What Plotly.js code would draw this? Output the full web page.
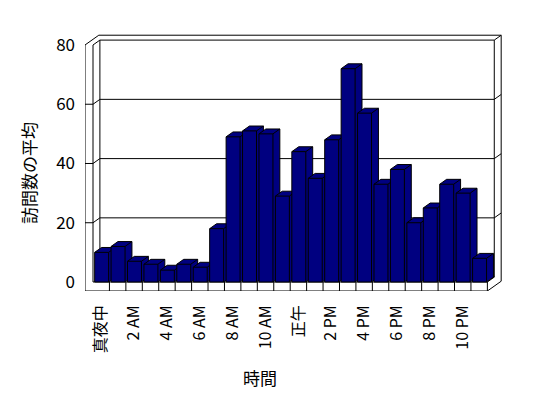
<!DOCTYPE html>
<html><head><meta charset="utf-8">
<script src="https://cdn.plot.ly/plotly-3.0.1.min.js"></script>
<style>html,body{margin:0;padding:0;background:#fff}#chart{width:548px;height:398px}</style>
</head><body><div id="chart"></div>
<script>
// ---- data ----
const hours = ["真夜中","1 AM","2 AM","3 AM","4 AM","5 AM","6 AM","7 AM","8 AM","9 AM","10 AM","11 AM",
               "正午","1 PM","2 PM","3 PM","4 PM","5 PM","6 PM","7 PM","8 PM","9 PM","10 PM","11 PM"];
const visits = [10,12,7,6,4,6,5,18,49,51,50,29,44,35,48,72,57,33,38,20,25,33,30,8];
const yTicks = [0,20,40,60,80];
const tickIdx = hours.map((_, i) => i).filter(i => i % 2 === 0);
const tickLabels = tickIdx.map(i => hours[i]);

// ---- 3D look parameters (styles) ----
const DX = 0.42, DY = 1.65, TW = 0.487, FH = 3.04;
const A = -0.5, B = hours.length - 0.5, YMAX = 80;
const BAR_L = 0.4, BAR_W = 0.85;
const FONT = '"Noto Sans CJK JP", "Noto Sans", sans-serif';

const traces = visits.map((v, i) => {
  const x0 = i - BAR_L, x1 = x0 + BAR_W;
  return {
    type: 'scatter', mode: 'lines',
    x: [x0, x0, x0 + DX, x1 + DX, x1 + DX, x1, x0, null, x0, x1, x1, null, x1, x1 + DX],
    y: [0, v, v + DY, v + DY, DY, 0, 0, null, v, v, 0, null, v, v + DY],
    fill: 'toself', fillcolor: '#000080',
    line: {color: '#000000', width: 1},
    hoverinfo: 'skip', showlegend: false
  };
});

function shp(pts) {
  return {type: 'path', xref: 'x', yref: 'y', layer: 'below',
          path: 'M' + pts.map(p => p[0] + ',' + p[1]).join('L'),
          line: {color: '#000000', width: 1}};
}
const shapes = [];
shapes.push(shp([[A-TW,-FH],[A-TW,YMAX],[A-TW+2*DX,YMAX+2*DY],[B+2*DX,YMAX+2*DY],[B+2*DX,-FH+2*DY],[B,-FH],[A-TW,-FH]]));
shapes.push(shp([[A,0],[A,YMAX],[A+DX,YMAX+DY],[B+DX,YMAX+DY],[B+DX,DY]]));
shapes.push(shp([[B+DX,YMAX+DY],[B+2*DX,YMAX+2*DY]]));
shapes.push(shp([[A+DX,DY],[A+DX,YMAX+DY]]));
shapes.push(shp([[A,0],[B,0],[B,-FH]]));
shapes.push(shp([[A+DX,DY],[B+DX,DY]]));
shapes.push(shp([[B,0],[B+DX,DY]]));
yTicks.filter(v => v > 0 && v < YMAX).forEach(v => {
  shapes.push(shp([[A-TW,v],[A,v],[A+DX,v+DY],[B+DX,v+DY],[B+2*DX,v+2*DY]]));
});
for (let k = 1; k < hours.length; k++) shapes.push(shp([[A+k,-FH],[A+k,0]]));

const layout = {
  width: 548, height: 398,
  margin: {l: 85, r: 46, t: 34, b: 107},
  paper_bgcolor: '#ffffff', plot_bgcolor: '#ffffff',
  font: {family: FONT, color: '#000000', size: 16},
  showlegend: false,
  xaxis: {range: [A - TW, 24.39], tickmode: 'array', tickvals: tickIdx, ticktext: tickLabels,
          tickangle: -90, showgrid: false, zeroline: false, showline: false, ticks: '',
          ticklabelstandoff: 10, tickfont: {size: 16, color: '#000000'}, fixedrange: true},
  yaxis: {range: [-FH, 83.71], tickmode: 'array', tickvals: yTicks,
          showgrid: false, zeroline: false, showline: false, ticks: '',
          ticklabelstandoff: 9, tickfont: {size: 17, color: '#000000'}, fixedrange: true},
  shapes: shapes,
  annotations: [
    {text: '時間', xref: 'paper', yref: 'paper', x: 0.42, y: -0.3385, showarrow: false,
     xanchor: 'center', yanchor: 'middle', font: {size: 17}},
    {text: '訪問数の平均', xref: 'paper', yref: 'paper', x: -0.1367, y: 0.459, showarrow: false,
     textangle: -90, xanchor: 'center', yanchor: 'middle', font: {size: 17}}
  ]
};
Plotly.newPlot('chart', traces, layout, {staticPlot: true});
</script></body></html>
